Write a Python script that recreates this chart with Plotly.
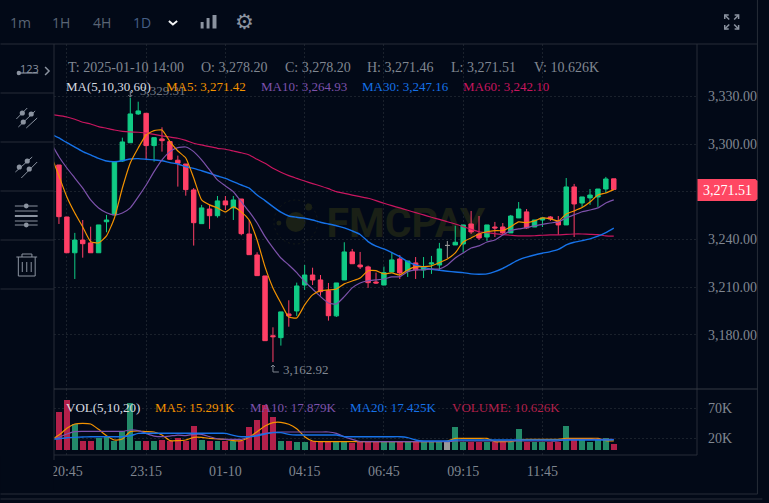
import plotly.graph_objects as go

BAR_INDEX = list(range(-1, 71))
OPEN = [3280.6,3286.9,3254.2,3231.7,3239.7,3237.9,3231.7,3251.2,3255.5,3289.4,3300.9,3319.0,3319.4,3299.1,3303.3,3301.6,3289.9,3287.5,3271.2,3250.0,3259.2,3255.0,3264.3,3259.9,3265.5,3243.5,3230.3,3217.1,3179.5,3178.3,3193.2,3195.1,3211.4,3217.7,3214.6,3207.8,3192.0,3214.6,3232.2,3224.0,3222.8,3213.3,3211.4,3219.6,3227.8,3220.2,3225.3,3220.9,3224.6,3224.0,3236.3,3236.6,3237.2,3249.8,3243.5,3241.6,3247.9,3247.9,3244.2,3253.6,3257.4,3247.9,3252.3,3254.2,3251.7,3249.2,3273.1,3263.0,3266.2,3266.8,3271.8,3278.20]
HIGH = [3288.2,3286.9,3254.2,3244.2,3252.3,3248.1,3249.2,3255.5,3288.9,3304.1,3329.31,3326.7,3319.4,3304.1,3310.6,3301.6,3292.8,3287.5,3272.4,3261.8,3261.8,3267.4,3267.4,3267.4,3265.5,3252.3,3232.0,3217.1,3184.8,3194.5,3201.8,3212.9,3224.0,3222.3,3217.7,3212.7,3212.7,3238.3,3234.1,3232.2,3223.6,3219.2,3223.0,3232.2,3230.3,3226.5,3229.0,3229.0,3229.7,3237.9,3239.1,3248.7,3249.2,3258.0,3254.8,3249.2,3251.1,3250.4,3255.5,3263.6,3259.2,3252.3,3253.6,3254.8,3254.8,3278.7,3275.0,3266.8,3271.8,3271.8,3279.4,3278.20]
LOW = [3280.6,3249.8,3231.7,3215.2,3228.6,3231.7,3231.7,3244.6,3255.5,3288.8,3300.9,3318.4,3290.5,3289.0,3295.3,3290.1,3273.3,3267.6,3236.2,3250.0,3246.7,3253.8,3258.6,3252.3,3242.7,3230.5,3217.3,3176.4,3162.92,3173.3,3185.2,3192.0,3208.3,3211.4,3204.7,3189.0,3191.3,3214.6,3224.8,3221.5,3209.6,3212.1,3211.4,3219.6,3215.2,3216.5,3215.2,3215.8,3218.4,3220.9,3228.4,3236.6,3231.7,3243.5,3239.7,3239.1,3241.6,3242.9,3244.2,3253.6,3246.7,3247.9,3247.9,3251.7,3242.9,3249.2,3241.6,3260.5,3261.8,3260.5,3269.3,3271.51]
CLOSE = [3288.2,3254.4,3231.7,3239.7,3237.4,3231.7,3249.2,3252.3,3288.8,3301.4,3319.0,3320.9,3299.1,3304.1,3302.2,3290.5,3288.0,3271.4,3250.6,3259.9,3255.0,3264.3,3261.8,3264.9,3243.7,3230.5,3217.3,3176.4,3178.9,3194.5,3192.0,3210.8,3217.7,3214.6,3207.2,3192.1,3212.7,3232.2,3224.8,3222.8,3212.9,3212.7,3219.2,3227.2,3219.0,3226.5,3220.9,3222.8,3225.3,3234.1,3236.3,3238.3,3249.2,3244.8,3241.0,3249.2,3247.3,3244.2,3254.8,3259.2,3247.3,3252.3,3253.6,3253.0,3249.2,3273.1,3262.4,3266.8,3268.0,3271.8,3278.1,3271.51]
MA5 = [3293.2,3280.0,3266.8,3256.7,3247.9,3238.7,3237.9,3242.3,3253.6,3272.4,3288.2,3297.6,3305.8,3308.5,3308.9,3301.6,3295.7,3291.3,3278.7,3264.9,3261.8,3259.9,3257.4,3260.5,3257.4,3252.3,3239.7,3222.8,3209.6,3200.1,3191.3,3190.7,3198.9,3205.2,3207.9,3208.3,3208.9,3212.1,3213.9,3215.8,3220.4,3220.4,3218.4,3219.0,3217.7,3220.9,3222.8,3223.0,3223.4,3225.5,3227.8,3231.6,3238.5,3241.0,3243.5,3244.9,3245.6,3245.6,3248.1,3251.1,3250.6,3251.7,3253.6,3253.0,3251.7,3256.1,3258.0,3260.1,3263.6,3268.0,3269.3,3271.42]
MA10 = [3300.7,3292.1,3285.0,3278.7,3272.4,3264.9,3259.9,3256.9,3255.5,3256.7,3259.9,3266.8,3274.3,3282.7,3290.1,3295.3,3297.8,3298.2,3295.3,3290.1,3283.8,3277.5,3273.7,3270.1,3263.8,3257.5,3250.4,3241.8,3234.7,3228.4,3224.0,3219.2,3213.5,3208.9,3204.1,3200.1,3199.5,3204.1,3209.6,3212.7,3214.1,3214.6,3215.2,3216.5,3216.7,3219.8,3220.9,3220.9,3221.5,3221.5,3224.0,3228.4,3231.6,3234.7,3236.0,3238.5,3239.7,3242.9,3245.6,3246.7,3247.5,3248.7,3249.6,3250.4,3251.1,3253.6,3255.5,3257.5,3258.6,3259.9,3263.0,3264.93]
MA30 = [3306.4,3303.9,3300.9,3298.2,3295.3,3293.2,3291.1,3289.4,3289.0,3289.6,3290.7,3290.9,3290.5,3290.1,3289.6,3288.4,3287.5,3285.8,3284.8,3283.3,3281.7,3280.0,3278.5,3276.4,3274.3,3272.4,3268.0,3264.5,3260.7,3257.2,3254.8,3254.0,3253.4,3252.3,3250.9,3249.8,3248.7,3247.3,3245.4,3243.2,3238.7,3235.8,3234.1,3231.8,3229.2,3226.1,3224.0,3222.6,3221.3,3220.7,3220.1,3219.6,3219.2,3218.4,3218.2,3218.4,3219.8,3221.9,3224.6,3227.2,3228.9,3230.3,3231.4,3232.4,3233.8,3236.6,3238.3,3239.3,3240.4,3242.1,3244.3,3247.16]
MA60 = [3318.7,3317.9,3317.1,3315.7,3313.8,3312.7,3311.0,3310.0,3308.9,3308.1,3307.7,3307.5,3306.9,3306.2,3305.2,3304.5,3303.7,3302.4,3300.6,3299.5,3298.4,3297.4,3296.8,3295.7,3294.6,3293.2,3290.5,3288.0,3284.8,3282.3,3280.2,3278.5,3276.8,3275.2,3273.7,3272.0,3270.1,3269.1,3268.0,3267.0,3266.0,3264.5,3262.8,3261.3,3259.9,3258.4,3256.9,3255.5,3254.0,3252.7,3251.2,3249.8,3248.1,3246.5,3244.9,3244.3,3243.7,3243.1,3242.7,3242.3,3242.3,3242.4,3242.7,3242.9,3242.9,3243.3,3243.5,3243.5,3243.3,3243.1,3242.3,3242.10]
VOLUME = [15,64,84.5,44,15.2,15.2,20.3,23.6,15.2,32,79,15.2,15.2,15.2,17,15.2,20,15.2,40.5,17,15.2,15.2,15.2,15.2,15.2,39,50.7,76,55.7,15.2,15.2,13.5,13.5,15.2,15.2,15.2,15.2,15.2,11.8,14,14,14,14,14,14,14,14,14,14,14,14,38.8,14,14,14,14,14,14,14,35.5,14,14,14,14,14,40.5,17,17,13.5,17,20,10.626]
VOL_MA5 = [16.9,25.3,36.6,43.9,45,43.9,34.9,24.2,16.9,18.6,31,32.1,31,30.4,25.3,15.8,15.8,16.9,21.4,21.4,19.7,18.6,18,15.8,15.8,21.4,31,40.5,46.2,46.7,43.4,36,22.5,15.2,14.1,14.1,14.1,14.1,14.1,14.1,14.1,14.1,14.1,14.1,14.1,14.1,14.1,14.1,14.1,14.1,15.2,19.7,19.7,19.7,19.7,19.7,14.1,14.1,14.1,16.9,18,18,18,18,18,19.7,19.7,19.7,19.7,19.7,15.8,15.291]
VOL_MA10 = [16.9,21.4,27,31,31.5,31.5,31.5,31.5,31.5,31.5,33.8,32.7,28,23.6,22.5,23.6,25.3,24.2,26.5,26.5,22.5,19,18,18,18,22.5,25.3,28,29.8,30.4,30.4,30.4,30.4,30.4,30.4,30.4,28,22.5,18,14.1,14.1,14.1,14.1,14.1,14.1,14.1,14.1,14.1,14.1,14.1,14.1,15.2,15.2,15.2,15.2,15.2,15.2,15.2,15.2,15.2,15.2,15.2,15.2,15.2,15.2,18,18,18,18,18,18,17.879]
VOL_MA20 = [18,19,20.8,21.4,22,22.5,22.5,22.5,22.5,22.5,24,28,28.2,28.2,28.2,28.2,28.2,28.2,28.2,28.2,28.2,28.2,28.2,24.8,22.5,22.5,24,27,29.3,29.3,26.5,25.3,25.3,25.3,25.3,25.3,25.3,22.5,22.5,22.5,22.5,22.5,22.5,22.5,22.5,21,17,15.2,15.2,15.2,15.2,17,17,17,17,17,17,17,17,17,17,17,17,17,17,17,17,17,17,17,17,17.425]
X_TICKS = [1, 11, 21, 31, 41, 51, 61]
X_LABELS = ["20:45", "23:15", "01-10", "04:15", "06:45", "09:15", "11:45"]
PRICE_TICKS = [3330, 3300, 3270, 3240, 3210, 3180]
PRICE_LABELS = ["3,330.00", "3,300.00", "", "3,240.00", "3,210.00", "3,180.00"]
VOL_TICKS = [70, 20]
VOL_LABELS = ["70K", "20K"]

for arr in (OPEN, HIGH, LOW, CLOSE, MA5, MA10, MA30, MA60, VOLUME, VOL_MA5, VOL_MA10, VOL_MA20):
    assert len(arr) == len(BAR_INDEX), len(arr)

BG = "#020917"; GRID = "#1a212c"; EDGE = "#262d38"; EDGE2 = "#343a44"
GREEN = "#10cb85"; RED = "#ff3f66"; VGREEN = "#238a69"; VRED = "#b3204a"; GRAY = "#9a9a9a"
TXT = "#808791"; ICON = "#8b93a0"
C5 = "#f39200"; C10 = "#7d52ab"; C30 = "#1672e8"; C60 = "#c9165f"
SERIF = "Liberation Serif"

L, R, T, B = 54, 703, 44, 455
W, H = 769, 503
def px(x): return (x - L) / (R - L)
def py(y): return (B - y) / (B - T)
PANE = 389
split = py(PANE)

fig = go.Figure()
flat = [o == c for o, c in zip(OPEN, CLOSE)]
def pick(a): return [v for v, f in zip(a, flat) if not f]
def pickf(a): return [v for v, f in zip(a, flat) if f]

fig.add_trace(go.Candlestick(
    x=pick(BAR_INDEX), open=pick(OPEN), high=pick(HIGH), low=pick(LOW), close=pick(CLOSE),
    increasing=dict(line=dict(color=GREEN, width=1), fillcolor=GREEN),
    decreasing=dict(line=dict(color=RED, width=1), fillcolor=RED),
    whiskerwidth=0, hoverinfo="skip", xaxis="x", yaxis="y"))
fig.add_trace(go.Candlestick(
    x=pickf(BAR_INDEX), open=pickf(OPEN), high=pickf(HIGH), low=pickf(LOW), close=pickf(CLOSE),
    increasing=dict(line=dict(color=GRAY, width=1), fillcolor=GRAY),
    decreasing=dict(line=dict(color=GRAY, width=1), fillcolor=GRAY),
    whiskerwidth=0, hoverinfo="skip", xaxis="x", yaxis="y"))
for vals, col in ((MA60, C60), (MA30, C30), (MA10, C10), (MA5, C5)):
    fig.add_trace(go.Scatter(x=BAR_INDEX, y=vals, mode="lines", hoverinfo="skip",
                             line=dict(color=col, width=1.4 if col == C30 else 1.2, shape="spline", smoothing=0.5),
                             xaxis="x", yaxis="y"))
vcol = [GRAY if o == c else (VGREEN if c > o else VRED) for o, c in zip(OPEN, CLOSE)]
fig.add_trace(go.Bar(x=BAR_INDEX, y=VOLUME, width=0.75, marker=dict(color=vcol, line=dict(width=0)),
                     hoverinfo="skip", xaxis="x", yaxis="y2"))
for vals, col in ((VOL_MA5, C5), (VOL_MA10, C10), (VOL_MA20, C30)):
    fig.add_trace(go.Scatter(x=BAR_INDEX, y=vals, mode="lines", hoverinfo="skip",
                             line=dict(color=col, width=1.4 if col == C30 else 1.2, shape="spline", smoothing=0.5),
                             xaxis="x", yaxis="y2"))

shapes = []
def seg(x0, y0, x1, y1, col=EDGE, w=1, layer="above"):
    shapes.append(dict(type="line", xref="paper", yref="paper", x0=px(x0), y0=py(y0), x1=px(x1), y1=py(y1),
                       line=dict(color=col, width=w), layer=layer))
def rect(x0, y0, x1, y1, fill=None, col=None, w=1, layer="above"):
    shapes.append(dict(type="rect", xref="paper", yref="paper", x0=px(x0), y0=py(y0), x1=px(x1), y1=py(y1),
                       fillcolor=fill or "rgba(0,0,0,0)", line=dict(color=col or "rgba(0,0,0,0)", width=w if col else 0), layer=layer))
def circ(cx, cy, r, fill=None, col=None, w=1, layer="above", dash=None):
    line = dict(color=col or "rgba(0,0,0,0)", width=w if col else 0)
    if dash: line["dash"] = dash
    shapes.append(dict(type="circle", xref="paper", yref="paper", x0=px(cx - r), y0=py(cy - r), x1=px(cx + r), y1=py(cy + r),
                       fillcolor=fill or "rgba(0,0,0,0)", line=line, layer=layer))
def poly(pts, col=ICON, w=1, fill=None, close=False):
    d = "M " + " L ".join(f"{px(a):.5f},{py(b):.5f}" for a, b in pts) + (" Z" if close else "")
    shapes.append(dict(type="path", xref="paper", yref="paper", path=d,
                       line=dict(color=col, width=w), fillcolor=fill or "rgba(0,0,0,0)", layer="above"))

# watermark
WM = "#1a2016"
circ(298, 222, 10, fill=WM, layer="below")
circ(298, 222, 22, col="#151a17", w=1, layer="below", dash="2px,3px")
circ(311, 207, 3.5, fill=WM, layer="below")
circ(281, 223, 2.5, fill=WM, layer="below")
shapes.append(dict(type="rect", xref="paper", yref="paper", x0=px(328), y0=py(236), x1=px(490), y1=py(204),
                   line=dict(width=0), fillcolor="rgba(0,0,0,0)", layer="below",
                   label=dict(text="FMCPAY", font=dict(family="Roboto", size=41, color=WM, weight="bold"),
                              textposition="middle center")))

# cover the clipped part of the first time label
rect(0, 456, 53.5, 490, fill=BG)

# frame
seg(0, 44, 764, 44); seg(764, 0, 764, 494); seg(0, 494, 764, 494); seg(0, 499, 769, 499)
seg(54, 44, 54, 460); seg(703, 44, 703, 455); seg(54, PANE, 764, PANE, col=EDGE2); seg(54, 455, 703, 455)
for yy in (93, 142, 191, 240, 289):
    seg(0, yy, 54, yy)

# price tag
shapes.append(dict(type="path", xref="paper", yref="paper", layer="above", fillcolor="#ff4763", line=dict(width=0),
    path=f"M {px(703.5):.5f},{py(179):.5f} L {px(762):.5f},{py(179):.5f} L {px(764):.5f},{py(181):.5f} L {px(764):.5f},{py(199):.5f} "
         f"L {px(762):.5f},{py(201):.5f} L {px(703.5):.5f},{py(201):.5f} Z"))

# toolbar icons
poly([(170, 21), (174, 24.5), (178.3, 21)], col="#f2f4f6", w=2)
for a, b, c in ((202, 205, 22), (208, 211, 18), (214, 218, 15)):
    rect(a, c, b, 28.5, fill=ICON)
for sx, sy in ((-1, -1), (1, -1), (-1, 1), (1, 1)):
    cx, cy = 738 + sx * 7, 22 + sy * 7
    poly([(cx - sx * 4, cy), (cx, cy), (cx, cy - sy * 4)], col=ICON, w=1.5)
    poly([(cx, cy), (cx - sx * 4.5, cy - sy * 4.5)], col=ICON, w=1.5)

# sidebar icons
seg(18, 73, 38, 73, col=ICON, w=1.2); circ(18.5, 73, 2.2, fill=ICON)
poly([(45, 67), (49, 71), (45, 75)], w=1.5)
seg(16, 119, 27, 108, col=ICON); seg(18, 127, 35, 111, col=ICON); seg(26, 128, 37, 118, col=ICON)
for a, b in ((22, 113), (31, 114), (23, 122)):
    circ(a, b, 2.6, fill=ICON)
seg(15, 172, 32, 157, col=ICON); seg(21, 178, 37, 162, col=ICON)
for a, b in ((19, 167), (27, 161), (29, 169)):
    circ(a, b, 2.6, fill=ICON)
for yy, w in ((206, 1), (211, 1), (216, 2), (221, 1), (225, 1)):
    seg(14.5, yy, 37.5, yy, col=ICON, w=w)
circ(26, 206, 2.4, fill=ICON); circ(26, 225, 2.4, fill=ICON)
seg(16, 257, 37, 257, col=ICON)
poly([(21.7, 257), (21.7, 254), (31.7, 254), (31.7, 257)])
poly([(18, 257), (18, 276), (35, 276), (35, 257)])
for a in (22, 26.5, 31):
    seg(a, 262, a, 272, col=ICON)
# high / low markers
poly([(131, 91), (131, 97)], col=TXT); poly([(129, 95), (131, 97), (133, 95)], col=TXT)
poly([(275, 372), (275, 365)], col=TXT); poly([(273, 367), (275, 365), (277, 367)], col=TXT); poly([(275, 372), (281, 372)], col=TXT)

ann = []
def text(x, y, s, col=TXT, size=14, fam=SERIF, anchor="left"):
    ann.append(dict(xref="paper", yref="paper", x=px(x), y=py(y), text=s, showarrow=False, xanchor=anchor, yanchor="middle",
                    font=dict(family=fam, size=size, color=col), borderpad=0, borderwidth=0))

text(141, 90, "3,329.31", col="#6f7681", size=13)
text(285, 369, "3,162.92", size=13)
for x, s, c in ((20, "1m", "#5a6575"), (61, "1H", "#5a6575"), (102, "4H", "#5a6575"), (143, "1D", "#465f85")):
    text(x, 22, s, col=c, size=14, fam="Open Sans", anchor="center")
text(246, 22, "⚙", col=ICON, size=21, fam="DejaVu Sans", anchor="center")
text(29, 68, "123", col=ICON, size=11, fam="Open Sans", anchor="center")
for x, s in ((68, "T: 2025-01-10 14:00"), (202, "O: 3,278.20"), (287, "C: 3,278.20"), (370, "H: 3,271.46"), (455, "L: 3,271.51"), (538, "V: 10.626K")):
    text(x, 67, s)
for x, s, c in ((66, "MA(5,10,30,60)", "#d8dbe0"), (167, "MA5: 3,271.42", C5), (263, "MA10: 3,264.93", C10), (365, "MA30: 3,247.16", C30), (467, "MA60: 3,242.10", C60)):
    text(x, 86.5, s, col=c, size=13)
for x, s, c in ((66, "VOL(5,10,20)", "#d8dbe0"), (156, "MA5: 15.291K", C5), (252, "MA10: 17.879K", C10), (353, "MA20: 17.425K", C30), (456, "VOLUME: 10.626K", VRED)):
    text(x, 407.5, s, col=c, size=13)
text(734, 190, "3,271.51", col="#ffffff", anchor="center")

axis_font = dict(family=SERIF, size=14, color=TXT)
fig.update_layout(
    width=W, height=H, autosize=False, showlegend=False,
    margin=dict(l=L, r=W - R, t=T, b=H - B, pad=0),
    paper_bgcolor=BG, plot_bgcolor=BG, boxgap=0.2, bargap=0, barmode="overlay",
    xaxis=dict(domain=[0, 1], anchor="y2", range=[-0.625, 80.5], tickmode="array", tickvals=X_TICKS, ticktext=X_LABELS,
               showgrid=True, gridcolor=GRID, griddash="2px,2px", gridwidth=1, zeroline=False, showline=False, ticks="",
               tickfont=axis_font, ticklabelstandoff=6, rangeslider=dict(visible=False), tickangle=0),
    yaxis=dict(domain=[split, 1], range=[3146.0, 3363.0], side="right", tickmode="array", tickvals=PRICE_TICKS, ticktext=PRICE_LABELS,
               showgrid=True, gridcolor=GRID, griddash="2px,2px", zeroline=False, showline=False, ticks="",
               tickfont=axis_font, ticklabelstandoff=10, anchor="x"),
    yaxis2=dict(domain=[0, split], range=[-8.4, 103], side="right", tickmode="array", tickvals=VOL_TICKS, ticktext=VOL_LABELS,
                showgrid=True, gridcolor=GRID, griddash="2px,2px", zeroline=False, showline=False, ticks="",
                tickfont=axis_font, ticklabelstandoff=10, anchor="x"),
    shapes=shapes, annotations=ann,
)
fig.write_html("out.html", config=dict(displayModeBar=False, staticPlot=True),
               post_script="document.body.style.margin='0';document.body.style.background='%s';document.body.style.overflow='hidden';" % BG)
